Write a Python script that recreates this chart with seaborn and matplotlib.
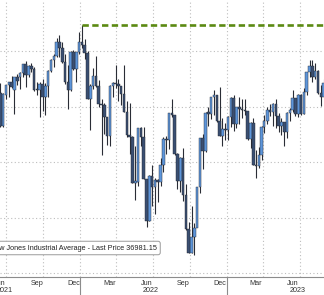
import numpy as np
import pandas as pd
import matplotlib
matplotlib.use("Agg")
import matplotlib.pyplot as plt
import matplotlib.dates as mdates
from matplotlib.lines import Line2D
import seaborn as sns

# Weekly OHLC of the Dow Jones Industrial Average (week ending Friday)
week_end = ["2021-06-18","2021-06-25","2021-07-02","2021-07-09","2021-07-16","2021-07-23","2021-07-30",
    "2021-08-06","2021-08-13","2021-08-20","2021-08-27","2021-09-03","2021-09-10","2021-09-17","2021-09-24",
    "2021-10-01","2021-10-08","2021-10-15","2021-10-22","2021-10-29","2021-11-05","2021-11-12","2021-11-19",
    "2021-11-26","2021-12-03","2021-12-10","2021-12-17","2021-12-24","2021-12-31",
    "2022-01-07","2022-01-14","2022-01-21","2022-01-28","2022-02-04","2022-02-11","2022-02-18","2022-02-25",
    "2022-03-04","2022-03-11","2022-03-18","2022-03-25","2022-04-01","2022-04-08","2022-04-14","2022-04-22",
    "2022-04-29","2022-05-06","2022-05-13","2022-05-20","2022-05-27","2022-06-03","2022-06-10","2022-06-17",
    "2022-06-24","2022-07-01","2022-07-08","2022-07-15","2022-07-22","2022-07-29","2022-08-05","2022-08-12",
    "2022-08-19","2022-08-26","2022-09-02","2022-09-09","2022-09-16","2022-09-23","2022-09-30","2022-10-07",
    "2022-10-14","2022-10-21","2022-10-28","2022-11-04","2022-11-11","2022-11-18","2022-11-25","2022-12-02",
    "2022-12-09","2022-12-16","2022-12-23","2022-12-30",
    "2023-01-06","2023-01-13","2023-01-20","2023-01-27","2023-02-03","2023-02-10","2023-02-17","2023-02-24",
    "2023-03-03","2023-03-10","2023-03-17","2023-03-24","2023-03-31","2023-04-06","2023-04-14","2023-04-21",
    "2023-04-28","2023-05-05","2023-05-12","2023-05-19","2023-05-26","2023-06-02","2023-06-09","2023-06-16",
    "2023-06-23","2023-06-30","2023-07-07","2023-07-14","2023-07-21","2023-07-28","2023-08-04","2023-08-11",
    "2023-08-18","2023-08-25","2023-09-01"]
opens = [34480,33300,34430,34790,34870,34600,35060,35060,35208,35515,35120,35455,35369,34607,34584,
    34798,34326,34746,35295,35677,35820,36328,36100,35601,34899,34580,35971,35365,35950,
    36338,36231,35912,34265,34725,35089,34738,34079,34058,33615,32944,34754,34861,34818,34721,34451,
    33811,32977,32899,31261,31262,33213,32899,31393,29888,31501,31097,31338,31288,31899,32845,32803,
    33761,33707,32283,31318,32151,30822,29590,28725,29297,29635,31082,32861,32403,33748,33746,34347,
    34430,33477,32920,33203,
    33147,33631,34303,33375,33978,33926,33869,33827,32817,33391,31910,31862,32238,33274,33485,33886,
    33809,34098,33674,33300,33427,33093,33762,33876,34299,33727,34408,33734,34509,35228,35459,35065,
    35281,34500,34346]
highs = [34850,34490,34790,34900,35090,35080,35170,35240,35530,35630,35510,35560,35410,34900,34890,
    35000,34860,35310,35700,35890,36470,36570,36330,35900,35510,36000,36030,35960,36680,
    36950,36420,36000,34800,35380,35820,34960,34270,34120,33620,34780,34880,35490,35000,34740,35500,
    34190,34120,32940,32570,33220,33260,33250,31400,31530,31880,31440,31400,32140,32900,32930,33780,
    34280,33710,32320,32170,32510,31200,29820,30410,29790,31080,32880,33010,33800,33990,34360,34600,
    34430,34710,33600,33390,
    33660,34340,34400,34000,34330,34280,34260,33850,33440,33570,32430,32540,33300,33680,33980,34080,
    34110,34260,33760,33570,33430,33790,33950,34590,34300,34450,34460,34650,35250,35680,35680,35580,
    35300,34780,34980]
lows = [33270,33270,34280,34360,34670,33740,34780,34640,35060,34690,35060,35240,34560,34420,33610,
    33840,33690,34360,35250,35420,35800,35780,35560,34800,33910,34560,35320,34870,35880,
    36120,35700,34260,33150,34620,34700,33990,32270,33000,32630,32580,34340,34670,34200,34060,33800,
    32910,32300,31230,30640,31130,32580,31390,29650,29880,30430,30140,30570,31140,31650,32280,32470,
    33620,32270,31040,30930,30610,29540,28720,28730,28660,29640,30880,31730,32360,33290,33540,33690,
    33450,32920,32580,32810,
    32810,33270,33130,33240,33380,33580,33690,32800,32500,31900,31430,31800,32060,33060,33380,33640,
    33300,33220,33080,32970,32590,32880,33490,33790,33640,33630,33710,33740,34400,35080,34900,34990,
    34440,34030,34330]
closes = [33290,34433,34786,34870,34687,35061,34935,35208,35515,35120,35455,35369,34607,34584,34798,
    34326,34746,35295,35677,35820,36328,36100,35601,34899,34580,35971,35365,35950,36338,
    36231,35912,34265,34725,35089,34738,34079,34058,33615,32944,34754,34861,34818,34721,34451,33811,
    32977,32899,31261,31262,33213,32899,31393,29888,31501,31097,31338,31288,31899,32845,32803,33761,
    33707,32283,31318,32151,30822,29590,28725,29297,29635,31082,32861,32403,33748,33746,34347,34430,
    33477,32920,33203,33147,
    33631,34303,33375,33978,33926,33869,33827,32817,33391,31910,31862,32238,33274,33485,33886,33809,
    34098,33674,33300,33427,33093,33762,33876,34299,33727,34408,33734,34509,35228,35459,35065,35281,
    34500,34346,34837]

record_high = 36952.65
record_dates = ["2022-01-05", "2023-08-31"]
legend_label = "Dow Jones Industrial Average - Last Price 36981.15"
month_labels = ["Mar", "Jun", "Sep", "Dec"]
gridline_values = [28000, 30000, 32000, 34000, 36000]

df = pd.DataFrame({"end": pd.to_datetime(week_end), "open": opens, "high": highs,
                   "low": lows, "close": closes})
df["mid"] = df["end"] - pd.Timedelta(days=2)
df["x"] = mdates.date2num(df["mid"])

sns.set_style("white")
plt.rcParams["font.family"] = ["Liberation Sans", "DejaVu Sans"]

fig = plt.figure(figsize=(3.24, 2.95), dpi=100)
ax = fig.add_axes([0, 18/295, 1, 277/295])

xmin = mdates.date2num(pd.Timestamp("2021-06-19"))
xmax = mdates.date2num(pd.Timestamp("2023-08-31"))
ax.set_xlim(xmin, xmax)
ax.set_ylim(27856, 37838)

# grid
grid_kw = dict(color="#bdbdbd", lw=0.8, ls=(0, (1, 2.2)), zorder=0)
for v in gridline_values:
    ax.axhline(v, **grid_kw)
for d in pd.date_range("2021-07-01", "2023-07-01", freq="QS"):
    ax.axvline(mdates.date2num(d), **grid_kw)

# candles
up = df["close"] >= df["open"]
ax.vlines(df["x"], df["low"], df["high"], color="#2a2d36", lw=0.8, zorder=2)
body_bottom = np.minimum(df["open"], df["close"])
body_h = np.maximum(np.abs(df["close"] - df["open"]), 40)
ax.bar(df["x"][up], body_h[up], bottom=body_bottom[up], width=6.4,
       color="#5d95da", edgecolor="#2a2d36", linewidth=0.3, zorder=3)
ax.bar(df["x"][~up], body_h[~up], bottom=body_bottom[~up], width=6.4,
       color="#3a4f72", edgecolor="#22252d", linewidth=0.3, zorder=3)

# record-high dashed line
rec = pd.DataFrame({"date": mdates.date2num(pd.to_datetime(record_dates)),
                    "value": [record_high, record_high]})
sns.lineplot(data=rec, x="date", y="value", ax=ax, color="#5b8a12", lw=1.9,
             linestyle=(0, (2.4, 1.3)), zorder=4)
ax.set_xlabel("")
ax.set_ylabel("")

# axes styling
for s in ["top", "right", "left"]:
    ax.spines[s].set_visible(False)
ax.spines["bottom"].set_color("#8c8c8c")
ax.spines["bottom"].set_linewidth(0.8)
ax.set_yticks([])

label_dates = [d + pd.Timedelta(days=14) for d in pd.date_range("2021-06-01", "2023-06-01", freq="MS")
               if d.strftime("%b") in month_labels]
ax.set_xticks(mdates.date2num(label_dates))
ax.set_xticklabels([d.strftime("%b") for d in label_dates], fontsize=5.2, color="#333333")
ax.tick_params(axis="x", which="major", length=0, pad=2.5)
ax.set_xticks(mdates.date2num(pd.date_range("2021-07-01", "2023-08-01", freq="MS")), minor=True)
ax.tick_params(axis="x", which="minor", direction="in", length=2.5, width=0.6, color="#8c8c8c")

# year labels and separators
trans = ax.get_xaxis_transform()
for yr in [2021, 2022, 2023]:
    ax.text(mdates.date2num(pd.Timestamp(f"{yr}-06-26")), -14/277, str(yr), transform=trans,
            ha="center", va="center", fontsize=5.2, color="#333333", clip_on=False)
for yr in [2022, 2023]:
    xd = mdates.date2num(pd.Timestamp(f"{yr}-01-01"))
    ax.add_line(Line2D([xd, xd], [0, -18/277], transform=trans, color="#8c8c8c", lw=0.8,
                       clip_on=False))

# legend box
fig.text(157/324, (295-248)/295, legend_label, ha="right", va="center", fontsize=5.2,
         color="#222222",
         bbox=dict(boxstyle="round,pad=0.45,rounding_size=0.3", fc="white", ec="#9a9a9a", lw=0.7))

fig.savefig("out.png", dpi=100)
